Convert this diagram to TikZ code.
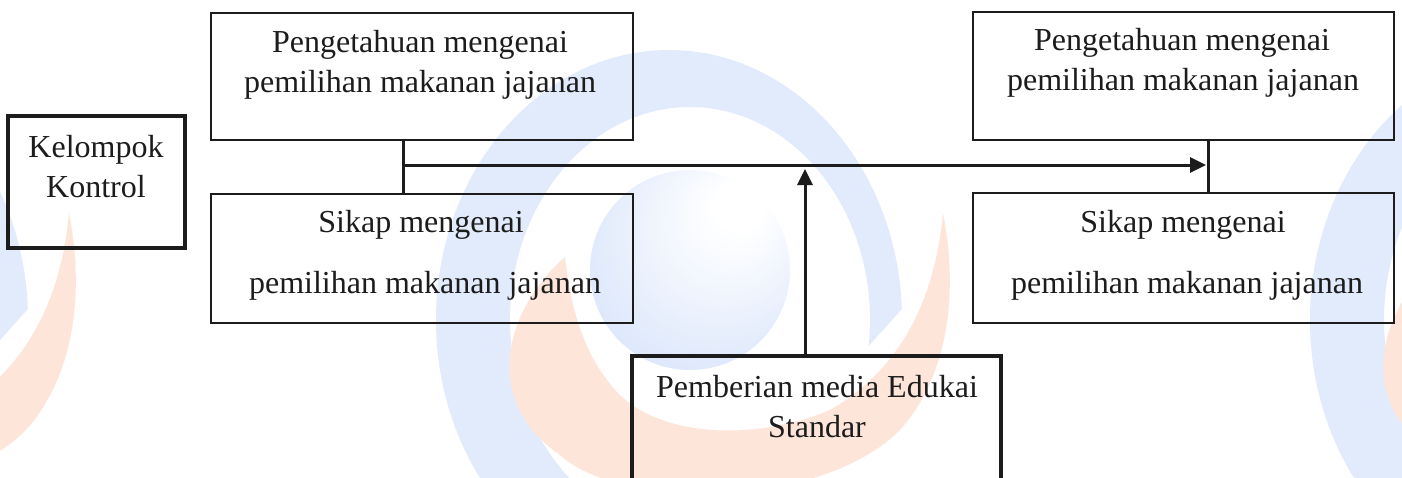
\documentclass[tikz,border=0pt]{standalone}
\usepackage{fontspec}
\setmainfont{Liberation Serif}
\usetikzlibrary{arrows.meta}

\definecolor{inkc}{HTML}{1C1C1C}
\definecolor{wblue}{HTML}{E2EBFC}
\definecolor{wballedge}{HTML}{DCE7FB}
\definecolor{worange}{HTML}{FDE5DA}

\pgfdeclareradialshading{wball}{\pgfpoint{14bp}{18bp}}{%
  color(0bp)=(white); color(6bp)=(white); color(34bp)=(wballedge); color(50bp)=(wballedge)}

\tikzset{
  box/.style={draw=inkc, line width=1pt, rectangle, inner sep=0pt, outer sep=0pt},
  heavybox/.style={box, line width=2pt},
  txt/.style={inner sep=0pt, anchor=base, text=inkc, font=\fontsize{16pt}{20pt}\selectfont},
  link/.style={draw=inkc, line width=1.5pt},
  tip/.style={-{Triangle[length=8pt,width=7.5pt]}}
}

\begin{document}
\begin{tikzpicture}[x=0.5pt,y=-0.5pt]
\useasboundingbox (0,0) rectangle (1402,477);
\clip (0,0) rectangle (1402,477);
\fill[white] (0,0) rectangle (1402,477);

% faint logo watermark, repeated across the page
\foreach \dx in {-874,0,874}{
  \begin{scope}[shift={(\dx,0)}]
    % blue swirl, its right arm tapering off towards the ball
    \begin{scope}
      \clip (300,-20) -- (1000,-20) -- (1000,200) -- (820,400) -- (560,560) -- (300,600) -- cycle;
      \fill[wblue, even odd rule]
        (669,320) ellipse [x radius=233, y radius=270]
        (690,320) ellipse [x radius=180, y radius=213];
    \end{scope}
    % shaded ball
    \shade[shading=wball] (690,270) circle (100);
    % orange crescent under the ball
    \fill[worange] (565,257) .. controls (505,310) and (480,400) .. (560,455)
      .. controls (620,510) and (820,510) .. (900,430)
      .. controls (945,380) and (960,300) .. (943,213)
      .. controls (935,300) and (900,370) .. (830,410)
      .. controls (760,440) and (660,440) .. (615,390)
      .. controls (580,350) and (570,300) .. (565,257) -- cycle;
  \end{scope}
}

% boxes
\node[heavybox, minimum width=88.5pt, minimum height=66pt] (kel) at (96.5,182) {};
\node[box, minimum width=211pt, minimum height=63.5pt] (preL) at (421.5,76) {};
\node[box, minimum width=211pt, minimum height=64.5pt] (sikL) at (421.5,258) {};
\node[box, minimum width=210.5pt, minimum height=64pt] (preR) at (1183,75.5) {};
\node[box, minimum width=210.5pt, minimum height=65pt] (sikR) at (1183,257.5) {};
\node[heavybox, minimum width=184.5pt, minimum height=72pt] (edu) at (816.5,428) {};

% texts
\node[txt] (kelA) at (96,157) {Kelompok};
\node[txt] (kelB) at (96,197.5) {Kontrol};
\node[txt] (preLA) at (420,52) {Pengetahuan mengenai};
\node[txt] (preLB) at (420,92) {pemilihan makanan jajanan};
\node[txt] (sikLA) at (421,232) {Sikap mengenai};
\node[txt] (sikLB) at (425,293.5) {pemilihan makanan jajanan};
\node[txt] (preRA) at (1182,50.5) {Pengetahuan mengenai};
\node[txt] (preRB) at (1183,90.5) {pemilihan makanan jajanan};
\node[txt] (sikRA) at (1183,232) {Sikap mengenai};
\node[txt] (sikRB) at (1187,293.5) {pemilihan makanan jajanan};
\node[txt] (eduA) at (817,397) {Pemberian media Edukai};
\node[txt] (eduB) at (817,437.5) {Standar};

% connectors
\coordinate (jL) at (403,165);
\coordinate (jR) at (1208,165);
\coordinate (upTip) at (805,169);
\draw[link] (preL.south -| jL) -- (sikL.north -| jL);
\draw[link] (preR.south -| jR) -- (sikR.north -| jR);
\draw[link, tip] (jL) -- ([xshift=-1pt]jR);
\draw[link, tip] (edu.north -| upTip) -- (upTip);
\end{tikzpicture}
\end{document}
